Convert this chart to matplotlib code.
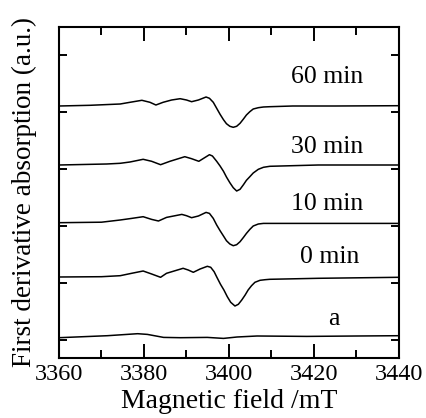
import matplotlib
matplotlib.use("Agg")
import matplotlib.pyplot as plt
from matplotlib.ticker import MultipleLocator, FixedLocator

plt.rcParams['font.family'] = ['Liberation Serif', 'DejaVu Serif']

# ---- data ----
field_60 = [3360.0, 3367.3, 3374.4, 3376.7, 3379.5, 3381.4, 3382.8, 3384.5, 3386.5, 3388.5,
            3390.0, 3391.2, 3392.8, 3394.6, 3395.4, 3396.3, 3397.1, 3397.9, 3398.7, 3399.4,
            3400.2, 3401.0, 3401.8, 3402.6, 3403.4, 3404.1, 3404.9, 3405.7, 3406.9, 3408.1,
            3409.6, 3415.0, 3425.0, 3440.0]
signal_60 = [0.0, 0.7, 2.0, 3.7, 5.7, 3.7, 1.0, 3.7, 6.0, 7.3,
             6.0, 4.3, 6.0, 9.0, 7.7, 3.7, -2.3, -8.3, -13.7, -17.7,
             -20.3, -21.3, -20.3, -17.3, -13.0, -9.0, -5.7, -3.0, -1.7, -1.0,
             -0.7, 0.0, 0.0, 0.3]

field_30 = [3360.0, 3371.2, 3374.4, 3376.7, 3379.8, 3381.8, 3383.9, 3386.1, 3389.6, 3391.2,
            3392.9, 3395.4, 3396.1, 3397.1, 3397.9, 3398.7, 3399.4, 3400.2, 3401.0, 3401.8,
            3402.6, 3403.4, 3404.1, 3404.9, 3405.7, 3406.9, 3408.1, 3409.6, 3421.0, 3440.0]
signal_30 = [0.0, 1.0, 1.7, 3.0, 5.7, 3.7, 0.3, 3.7, 8.3, 6.3,
             3.7, 10.3, 9.0, 3.7, -1.0, -6.3, -12.0, -17.7, -22.7, -26.0,
             -24.3, -19.7, -15.3, -11.7, -8.0, -4.3, -2.3, -1.3, 0.0, 0.0]

field_10 = [3360.0, 3370.0, 3374.4, 3377.1, 3379.8, 3381.8, 3383.4, 3385.3, 3388.9, 3390.0,
            3391.2, 3392.8, 3394.6, 3395.4, 3396.3, 3397.1, 3397.9, 3398.7, 3399.4, 3400.2,
            3401.0, 3401.8, 3402.6, 3403.4, 3404.1, 3404.9, 3405.7, 3406.9, 3408.1, 3409.6,
            3421.0, 3440.0]
signal_10 = [0.0, 0.5, 2.7, 4.3, 6.0, 3.3, 1.7, 5.3, 8.3, 7.0,
             5.0, 6.7, 10.3, 9.3, 4.3, -2.3, -8.0, -13.3, -18.0, -21.3,
             -23.0, -22.0, -19.0, -14.7, -10.7, -6.7, -3.3, -1.3, -0.7, -0.7,
             -0.7, -0.7]

field_0 = [3360.0, 3370.0, 3374.4, 3377.1, 3379.8, 3381.8, 3383.9, 3385.3, 3389.2, 3390.4,
           3391.6, 3393.2, 3394.9, 3395.7, 3396.5, 3397.2, 3398.0, 3398.8, 3399.6, 3400.4,
           3401.4, 3402.2, 3403.0, 3403.8, 3404.5, 3405.3, 3406.1, 3407.3, 3408.5, 3409.6,
           3421.0, 3440.0]
signal_0 = [0.0, 0.3, 1.3, 3.7, 6.0, 3.0, -0.3, 3.7, 8.7, 7.0,
            4.7, 8.0, 10.7, 9.7, 5.3, -0.7, -7.3, -13.0, -19.7, -25.3,
            -29.0, -27.3, -23.0, -18.0, -13.0, -8.7, -5.3, -3.3, -2.7, -2.3,
            -1.3, -0.3]

field_a = [3360.0, 3371.4, 3378.5, 3380.8, 3384.6, 3388.6, 3394.9, 3398.7, 3401.9, 3406.6,
           3418.3, 3430.1, 3440.0]
signal_a = [0.0, 2.0, 4.0, 3.3, 0.3, 0.0, 0.3, -0.7, 0.7, 1.7,
            1.3, 1.7, 2.0]

trace_labels = ["60 min", "30 min", "10 min", "0 min", "a"]
trace_offsets = [234.0, 175.0, 117.3, 63.0, 2.3]
label_y = [257.0, 187.0, 130.0, 76.7, 15.0]
label_x = [3423.1, 3423.1, 3423.1, 3423.6, 3424.7]

x_ticks = [3360, 3380, 3400, 3420, 3440]
y_ticks = [0, 57, 114, 171, 228, 285]

fields = [field_60, field_30, field_10, field_0, field_a]
signals = [signal_60, signal_30, signal_10, signal_0, signal_a]

# ---- figure ----
fig = plt.figure(figsize=(4.27, 4.18), dpi=100)
ax = fig.add_axes([59 / 427, 1 - 357.5 / 418, 340 / 427, 330.8 / 418])

for f, s, off in zip(fields, signals, trace_offsets):
    ax.plot(f, [v + off for v in s], color='black', lw=1.1,
            solid_joinstyle='round', solid_capstyle='round')

for lab, lx, ly in zip(trace_labels, label_x, label_y):
    ax.text(lx, ly, lab, ha='center', va='baseline', fontsize=18.5)

ax.set_xlim(3360, 3440)
ax.set_ylim(-17.5, 313.3)
ax.xaxis.set_major_locator(FixedLocator(x_ticks))
ax.xaxis.set_minor_locator(MultipleLocator(10))
ax.yaxis.set_major_locator(FixedLocator(y_ticks))
ax.set_yticklabels([])

ax.tick_params(axis='x', which='major', direction='in', length=10, width=1.4,
               top=True, bottom=True, labelsize=17.5, pad=4.5)
ax.tick_params(axis='x', which='minor', direction='in', length=5.5, width=1.4,
               top=True, bottom=True)
ax.tick_params(axis='y', which='major', direction='in', length=5.5, width=1.4,
               left=True, right=True)
for sp in ax.spines.values():
    sp.set_linewidth(1.5)

ax.set_xlabel("Magnetic field /mT", fontsize=20, labelpad=3)
ax.set_ylabel("First derivative absorption (a.u.)", fontsize=19.5, labelpad=12)

fig.savefig("out.png", dpi=100)
